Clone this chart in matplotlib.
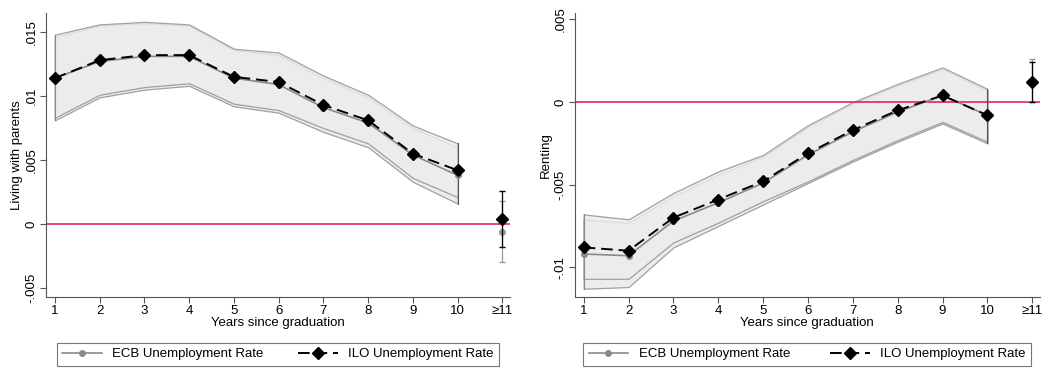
import matplotlib
matplotlib.use("Agg")
import matplotlib.pyplot as plt
import numpy as np

plt.rcParams['font.family'] = ['Liberation Sans', 'DejaVu Sans']
plt.rcParams['font.size'] = 9.5

years = [1, 2, 3, 4, 5, 6, 7, 8, 9, 10]
xlabels = ["1", "2", "3", "4", "5", "6", "7", "8", "9", "10", "≥11"]

# living with parents
lp_ilo = [0.0114, 0.0128, 0.0132, 0.0132, 0.0115, 0.0111, 0.0093, 0.0081, 0.0055, 0.0042]
lp_ecb = [0.0114, 0.0127, 0.0131, 0.0131, 0.0114, 0.0109, 0.0091, 0.0079, 0.0054, 0.0038]
lp_ilo_hi = [0.0148, 0.0156, 0.0158, 0.0156, 0.0137, 0.0134, 0.0116, 0.0101, 0.0077, 0.0063]
lp_ilo_lo = [0.0083, 0.0101, 0.0107, 0.0110, 0.0094, 0.0089, 0.0075, 0.0063, 0.0036, 0.0021]
lp_ecb_hi = [0.0146, 0.0155, 0.0157, 0.0155, 0.0136, 0.0132, 0.0114, 0.0099, 0.0075, 0.0060]
lp_ecb_lo = [0.0081, 0.0099, 0.0105, 0.0108, 0.0092, 0.0087, 0.0072, 0.0060, 0.0033, 0.0016]
lp_last_ilo = [0.0004, -0.0018, 0.0026]
lp_last_ecb = [-0.0006, -0.0030, 0.0018]

# renting
rn_ilo = [-0.0088, -0.0090, -0.0070, -0.0059, -0.0048, -0.0031, -0.0017, -0.0005, 0.0004, -0.0008]
rn_ecb = [-0.0092, -0.0093, -0.0072, -0.0061, -0.0049, -0.0032, -0.0018, -0.0006, 0.0004, -0.0008]
rn_ilo_hi = [-0.0068, -0.0071, -0.0055, -0.0042, -0.0032, -0.0014, 0.0000, 0.0011, 0.0021, 0.0008]
rn_ilo_lo = [-0.0107, -0.0107, -0.0085, -0.0073, -0.0060, -0.0048, -0.0035, -0.0023, -0.0012, -0.0024]
rn_ecb_hi = [-0.0071, -0.0073, -0.0057, -0.0044, -0.0033, -0.0015, -0.0001, 0.0010, 0.0020, 0.0007]
rn_ecb_lo = [-0.0113, -0.0112, -0.0088, -0.0075, -0.0062, -0.0049, -0.0036, -0.0024, -0.0013, -0.0025]
rn_last_ilo = [0.0012, 0.0000, 0.0024]
rn_last_ecb = [0.0013, 0.0000, 0.0026]

fig = plt.figure(figsize=(10.43, 3.68), dpi=100)
ax1 = fig.add_axes([0.044, 0.193, 0.445, 0.772])
ax2 = fig.add_axes([0.551, 0.193, 0.446, 0.772])


def panel(ax, ilo, ecb, ihi, ilo_lo, ehi, elo, last_i, last_e, ylim, yticks, yticklabels, ylabel, legx):
    ax.fill_between(years, elo, ehi, color='#ececec', edgecolor='#a0a0a0', lw=0.9, zorder=1)
    ax.fill_between(years, ilo_lo, ihi, color='#ececec', edgecolor='#8c8c8c', lw=0.9, zorder=1, alpha=0.8)
    ax.plot([years[-1], years[-1]], [min(elo[-1], ilo_lo[-1]), max(ehi[-1], ihi[-1])], color='#555555', lw=0.8, zorder=2)
    ax.plot([years[0], years[0]], [min(elo[0], ilo_lo[0]), max(ehi[0], ihi[0])], color='#888888', lw=0.8, zorder=2)
    ax.axhline(0, color='#e2245e', lw=1.2, zorder=1.5)
    ax.errorbar([11], [last_e[0]], yerr=[[last_e[0] - last_e[1]], [last_e[2] - last_e[0]]],
                fmt='o', color='#999999', ms=4, capsize=2, lw=0.9, zorder=3)
    ax.errorbar([11], [last_i[0]], yerr=[[last_i[0] - last_i[1]], [last_i[2] - last_i[0]]],
                fmt='D', color='black', ms=6, capsize=2, lw=0.9, zorder=4)
    l1, = ax.plot(years, ecb, color='#8a8a8a', lw=1.2, marker='o', ms=4, zorder=3,
                  label='ECB Unemployment Rate')
    l2, = ax.plot(years, ilo, color='black', lw=1.4, ls=(0, (6, 3)), marker='D', ms=6, zorder=4,
                  label='ILO Unemployment Rate')
    ax.set_xlim(0.8, 11.17)
    ax.set_ylim(*ylim)
    ax.set_xticks(list(range(1, 12)))
    ax.set_xticklabels(xlabels)
    ax.set_yticks(yticks)
    ax.set_yticklabels(yticklabels, rotation=90, va='center')
    ax.set_ylabel(ylabel, labelpad=2)
    ax.set_xlabel('Years since graduation', labelpad=0)
    ax.spines['top'].set_visible(False)
    ax.spines['right'].set_visible(False)
    for s in ['left', 'bottom']:
        ax.spines[s].set_color('#555555')
        ax.spines[s].set_linewidth(0.8)
    ax.tick_params(length=4, width=0.8, color='#555555', pad=2)
    leg = ax.legend(handles=[l1, l2], loc='center', ncol=2, mode='expand',
                    bbox_to_anchor=legx, bbox_transform=fig.transFigure,
                    frameon=True, fancybox=False, edgecolor='#555555', handlelength=3,
                    borderpad=0.4, fontsize=9.5)
    leg.get_frame().set_linewidth(0.8)


panel(ax1, lp_ilo, lp_ecb, lp_ilo_hi, lp_ilo_lo, lp_ecb_hi, lp_ecb_lo, lp_last_ilo, lp_last_ecb,
      (-0.0057, 0.0165), [-0.005, 0, 0.005, 0.01, 0.015], ['-.005', '0', '.005', '.01', '.015'],
      'Living with parents', (0.048, 0.005, 0.437, 0.065))
panel(ax2, rn_ilo, rn_ecb, rn_ilo_hi, rn_ilo_lo, rn_ecb_hi, rn_ecb_lo, rn_last_ilo, rn_last_ecb,
      (-0.0118, 0.0054), [-0.01, -0.005, 0, 0.005], ['-.01', '-.005', '0', '.005'],
      'Renting', (0.553, 0.005, 0.442, 0.065))

fig.savefig('out.png', dpi=100)
